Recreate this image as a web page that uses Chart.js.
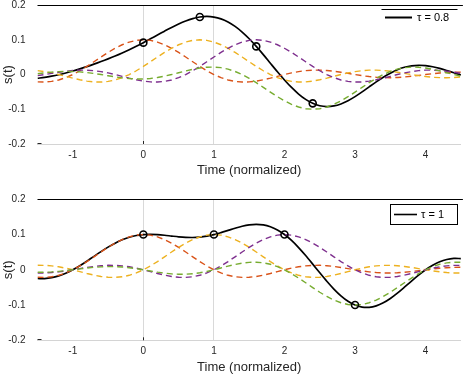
<!DOCTYPE html>
<html><head><meta charset="utf-8">
<script src="https://cdn.jsdelivr.net/npm/chart.js@4.4.1/dist/chart.umd.min.js"></script>
<style>
html,body{margin:0;padding:0;background:#fff;}
.w{position:absolute;left:0;width:466px;height:187px;}
canvas{display:block;}
</style>
</head><body>
<div class="w" style="top:0"><canvas id="c1" width="466" height="187" style="width:466px;height:187px"></canvas></div>
<div class="w" style="top:187px"><canvas id="c2" width="466" height="187" style="width:466px;height:187px"></canvas></div>
<script>
// ---- data ----
const time = [-1.5,-1.4,-1.3,-1.2,-1.1,-1.0,-0.9,-0.8,-0.7,-0.6,-0.5,-0.4,-0.3,-0.2,-0.1,0,0.1,0.2,0.3,0.4,0.5,0.6,0.7,0.8,0.9,1.0,1.1,1.2,1.3,1.4,1.5,1.6,1.7,1.8,1.9,2.0,2.1,2.2,2.3,2.4,2.5,2.6,2.7,2.8,2.9,3.0,3.1,3.2,3.3,3.4,3.5,3.6,3.7,3.8,3.9,4.0,4.1,4.2,4.3,4.4,4.5];

// pulse on symbol 0 (same in both panels)
const pulseOrange = [-0.0212,-0.0216,-0.0198,-0.0156,-0.0089,0,0.0109,0.0234,0.0368,0.0505,0.0637,0.0757,0.0858,0.0935,0.0984,0.1,0.0984,0.0935,0.0858,0.0757,0.0637,0.0505,0.0368,0.0234,0.0109,0,-0.0089,-0.0156,-0.0198,-0.0216,-0.0212,-0.0189,-0.0151,-0.0104,-0.0052,0,0.0047,0.0085,0.0112,0.0126,0.0127,0.0116,0.0095,0.0067,0.0034,0,-0.0032,-0.0058,-0.0078,-0.0089,-0.0091,-0.0084,-0.0070,-0.0049,-0.0025,0,0.0024,0.0045,0.0060,0.0069,0.0071];

// tau = 0.8 panel
const yellow08 = [0.0112,0.0085,0.0047,0,-0.0052,-0.0104,-0.0151,-0.0189,-0.0212,-0.0216,-0.0198,-0.0156,-0.0089,0,0.0109,0.0234,0.0368,0.0505,0.0637,0.0757,0.0858,0.0935,0.0984,0.1,0.0984,0.0935,0.0858,0.0757,0.0637,0.0505,0.0368,0.0234,0.0109,0,-0.0089,-0.0156,-0.0198,-0.0216,-0.0212,-0.0189,-0.0151,-0.0104,-0.0052,0,0.0047,0.0085,0.0112,0.0126,0.0127,0.0116,0.0095,0.0067,0.0034,0,-0.0032,-0.0058,-0.0078,-0.0089,-0.0091,-0.0084,-0.0070];
const purple08 = [-0.0032,0,0.0034,0.0067,0.0095,0.0116,0.0127,0.0126,0.0112,0.0085,0.0047,0,-0.0052,-0.0104,-0.0151,-0.0189,-0.0212,-0.0216,-0.0198,-0.0156,-0.0089,0,0.0109,0.0234,0.0368,0.0505,0.0637,0.0757,0.0858,0.0935,0.0984,0.1,0.0984,0.0935,0.0858,0.0757,0.0637,0.0505,0.0368,0.0234,0.0109,0,-0.0089,-0.0156,-0.0198,-0.0216,-0.0212,-0.0189,-0.0151,-0.0104,-0.0052,0,0.0047,0.0085,0.0112,0.0126,0.0127,0.0116,0.0095,0.0067,0.0034];
const green08 = [0.0025,0.0049,0.0070,0.0084,0.0091,0.0089,0.0078,0.0058,0.0032,0,-0.0034,-0.0067,-0.0095,-0.0116,-0.0127,-0.0126,-0.0112,-0.0085,-0.0047,0,0.0052,0.0104,0.0151,0.0189,0.0212,0.0216,0.0198,0.0156,0.0089,0,-0.0109,-0.0234,-0.0368,-0.0505,-0.0637,-0.0757,-0.0858,-0.0935,-0.0984,-0.1,-0.0984,-0.0935,-0.0858,-0.0757,-0.0637,-0.0505,-0.0368,-0.0234,-0.0109,0,0.0089,0.0156,0.0198,0.0216,0.0212,0.0189,0.0151,0.0104,0.0052,0,-0.0047];
const signal08 = [-0.0107,-0.0082,-0.0047,-0.0005,0.0045,0.0101,0.0163,0.0229,0.0300,0.0374,0.0452,0.0534,0.0622,0.0715,0.0815,0.0919,0.1028,0.1139,0.1250,0.1358,0.1458,0.1544,0.1612,0.1657,0.1673,0.1656,0.1604,0.1514,0.1386,0.1224,0.1031,0.0811,0.0574,0.0326,0.0080,-0.0156,-0.0372,-0.0561,-0.0716,-0.0829,-0.0899,-0.0923,-0.0904,-0.0846,-0.0754,-0.0636,-0.0500,-0.0355,-0.0211,-0.0077,0.0041,0.0139,0.0209,0.0252,0.0267,0.0257,0.0224,0.0176,0.0116,0.0052,-0.0012];
const sampleT08 = [0, 0.8, 1.6, 2.4];
const sampleS08 = [0.0919, 0.1657, 0.0811, -0.0829];

// tau = 1 panel
const yellow1 = [0.0127,0.0126,0.0112,0.0085,0.0047,0,-0.0052,-0.0104,-0.0151,-0.0189,-0.0212,-0.0216,-0.0198,-0.0156,-0.0089,0,0.0109,0.0234,0.0368,0.0505,0.0637,0.0757,0.0858,0.0935,0.0984,0.1,0.0984,0.0935,0.0858,0.0757,0.0637,0.0505,0.0368,0.0234,0.0109,0,-0.0089,-0.0156,-0.0198,-0.0216,-0.0212,-0.0189,-0.0151,-0.0104,-0.0052,0,0.0047,0.0085,0.0112,0.0126,0.0127,0.0116,0.0095,0.0067,0.0034,0,-0.0032,-0.0058,-0.0078,-0.0089,-0.0091];
const purple1 = [-0.0091,-0.0089,-0.0078,-0.0058,-0.0032,0,0.0034,0.0067,0.0095,0.0116,0.0127,0.0126,0.0112,0.0085,0.0047,0,-0.0052,-0.0104,-0.0151,-0.0189,-0.0212,-0.0216,-0.0198,-0.0156,-0.0089,0,0.0109,0.0234,0.0368,0.0505,0.0637,0.0757,0.0858,0.0935,0.0984,0.1,0.0984,0.0935,0.0858,0.0757,0.0637,0.0505,0.0368,0.0234,0.0109,0,-0.0089,-0.0156,-0.0198,-0.0216,-0.0212,-0.0189,-0.0151,-0.0104,-0.0052,0,0.0047,0.0085,0.0112,0.0126,0.0127];
const green1 = [-0.0071,-0.0069,-0.0060,-0.0045,-0.0024,0,0.0025,0.0049,0.0070,0.0084,0.0091,0.0089,0.0078,0.0058,0.0032,0,-0.0034,-0.0067,-0.0095,-0.0116,-0.0127,-0.0126,-0.0112,-0.0085,-0.0047,0,0.0052,0.0104,0.0151,0.0189,0.0212,0.0216,0.0198,0.0156,0.0089,0,-0.0109,-0.0234,-0.0368,-0.0505,-0.0637,-0.0757,-0.0858,-0.0935,-0.0984,-0.1,-0.0984,-0.0935,-0.0858,-0.0757,-0.0637,-0.0505,-0.0368,-0.0234,-0.0109,0,0.0089,0.0156,0.0198,0.0216,0.0212];
const signal1 = [-0.0247,-0.0248,-0.0224,-0.0174,-0.0098,0,0.0116,0.0246,0.0382,0.0516,0.0643,0.0756,0.0850,0.0922,0.0974,0.1,0.1007,0.0998,0.0980,0.0957,0.0935,0.0920,0.0916,0.0928,0.0957,0.1,0.1056,0.1117,0.1179,0.1235,0.1274,0.1289,0.1273,0.1221,0.1130,0.1,0.0833,0.0630,0.0404,0.0162,-0.0085,-0.0325,-0.0546,-0.0738,-0.0893,-0.1,-0.1058,-0.1064,-0.1022,-0.0936,-0.0813,-0.0662,-0.0494,-0.0320,-0.0152,0,0.0128,0.0228,0.0292,0.0322,0.0319];
const sampleT1 = [0, 1, 2, 3];
const sampleS1 = [0.1, 0.1, 0.1, -0.1];

const xTicks = [-1, 0, 1, 2, 3, 4];
const yTicks = [-0.2, -0.1, 0, 0.1, 0.2];
const yTickLabels = ['-0.2', '-0.1', '0', '0.1', '0.2'];
const gridAt = [0, 1];
const legendLabels = ['\u03C4 = 0.8', '\u03C4 = 1'];
const xTitle = 'Time (normalized)';
const yTitle = 's(t)';

// ---- drawing ----
const FONT = "'Liberation Sans', Arial, Helvetica, sans-serif";
const TXT = '#262626';
const C_ORANGE = '#D95319', C_YELLOW = '#EDB120', C_PURPLE = '#7E2F8E', C_GREEN = '#77AC30';

function pts(xs, ys) { return xs.map((x, i) => ({x: x, y: ys[i]})); }

function dashed(label, ys, color, order) {
  return {label, data: pts(time, ys), showLine: true, borderColor: color, borderWidth: 1.4,
    borderDash: [6, 4], pointRadius: 0, fill: false, tension: 0, order};
}

function makeChart(id, sig, yel, pur, grn, sT, sS, legendText, boxed, padTop, xH, titlePad) {
  const framePlugin = {
    id: 'frame' + id,
    beforeDatasetsDraw(chart) {
      const {ctx, chartArea: a, scales} = chart;
      ctx.save();
      ctx.strokeStyle = '#000';
      ctx.lineWidth = 1;
      ctx.beginPath();
      ctx.moveTo(a.left, Math.round(a.top) + 0.5);
      ctx.lineTo(a.right + 2, Math.round(a.top) + 0.5);
      ctx.stroke();
      ctx.strokeStyle = '#262626';
      const yb = scales.y.getPixelForValue(-0.2);
      ctx.beginPath();
      ctx.moveTo(a.left, Math.round(yb) - 0.5); ctx.lineTo(a.left + 4, Math.round(yb) - 0.5);
      const x0 = scales.x.getPixelForValue(0);
      ctx.moveTo(Math.round(x0) + 0.5, a.bottom); ctx.lineTo(Math.round(x0) + 0.5, a.bottom - 3);
      ctx.stroke();
      ctx.restore();
    },
    afterDraw(chart) {
      const {ctx} = chart;
      ctx.save();
      ctx.strokeStyle = '#000';
      ctx.fillStyle = '#000';
      if (boxed) {
        ctx.lineWidth = 1;
        ctx.fillStyle = '#fff';
        ctx.fillRect(390.5, 17.5, 67, 20);
        ctx.strokeRect(390.5, 17.5, 67, 20);
        ctx.lineWidth = 1.6;
        ctx.beginPath(); ctx.moveTo(394, 27.5); ctx.lineTo(417, 27.5); ctx.stroke();
        ctx.fillStyle = '#000';
        ctx.font = '11px ' + FONT;
        ctx.textBaseline = 'middle';
        ctx.fillText(legendText, 421, 28);
      } else {
        ctx.lineWidth = 1;
        ctx.beginPath(); ctx.moveTo(381.5, 9.5); ctx.lineTo(457.5, 9.5); ctx.stroke();
        ctx.lineWidth = 2;
        ctx.beginPath(); ctx.moveTo(385, 17.5); ctx.lineTo(412, 17.5); ctx.stroke();
        ctx.font = '11px ' + FONT;
        ctx.textBaseline = 'middle';
        ctx.fillText(legendText, 417, 18);
      }
      ctx.restore();
    }
  };

  return new Chart(document.getElementById(id), {
    type: 'scatter',
    data: {
      datasets: [
        {label: 'samples', data: pts(sT, sS), showLine: false, pointRadius: 3.5, pointHoverRadius: 3.5,
         pointBorderWidth: 1.6, pointBorderColor: '#000', pointBackgroundColor: 'rgba(0,0,0,0)', order: 0},
        dashed('symbol 4', grn, C_GREEN, 1),
        dashed('symbol 3', pur, C_PURPLE, 2),
        dashed('symbol 2', yel, C_YELLOW, 3),
        dashed('symbol 1', pulseOrange, C_ORANGE, 4),
        {label: legendText, data: pts(time, sig), showLine: true, borderColor: '#000', borderWidth: 1.7,
         pointRadius: 0, fill: false, tension: 0.3, order: 5}
      ]
    },
    options: {
      responsive: false,
      animation: false,
      events: [],
      layout: {padding: {top: padTop, right: 2, left: 0, bottom: 0}},
      plugins: {legend: {display: false}, tooltip: {enabled: false}},
      scales: {
        x: {
          type: 'linear', min: -1.5, max: 4.5,
          afterBuildTicks: s => { s.ticks = xTicks.map(v => ({value: v})); },
          afterFit: s => { s.height = xH; s.paddingLeft = 0; s.paddingRight = 0; },
          ticks: {font: {size: 10, family: FONT}, color: TXT, padding: 5, maxRotation: 0, autoSkip: false,
                  callback: v => String(v)},
          grid: {drawTicks: false, lineWidth: 1,
                 color: c => (c.tick && gridAt.includes(c.tick.value)) ? '#d9d9d9' : 'rgba(0,0,0,0)'},
          border: {display: true, color: '#d4d4d4', width: 1},
          title: {display: true, text: xTitle, color: TXT, font: {size: 13, family: FONT, lineHeight: 1},
                  padding: {top: 0, bottom: titlePad}}
        },
        y: {
          min: -0.2, max: 0.2,
          afterBuildTicks: s => { s.ticks = yTicks.map(v => ({value: v})); },
          afterFit: s => { s.width = 37.5; s.paddingTop = 0; s.paddingBottom = 0; },
          ticks: {font: {size: 10, family: FONT}, color: TXT, padding: 4,
                  callback: v => { const i = yTicks.findIndex(t => Math.abs(t - v) < 1e-9); return i >= 0 ? yTickLabels[i] : ''; }},
          grid: {display: false},
          border: {display: false},
          title: {display: true, text: yTitle, color: TXT, font: {size: 13, family: FONT, lineHeight: 1},
                  padding: {top: 1.5, bottom: 0}}
        }
      }
    },
    plugins: [framePlugin]
  });
}

makeChart('c1', signal08, yellow08, purple08, green08, sampleT08, sampleS08, legendLabels[0], false, 3.5, 43, 10.5);
makeChart('c2', signal1, yellow1, purple1, green1, sampleT1, sampleS1, legendLabels[1], true, 12.3, 33.7, 0.5);
</script>
</body></html>
